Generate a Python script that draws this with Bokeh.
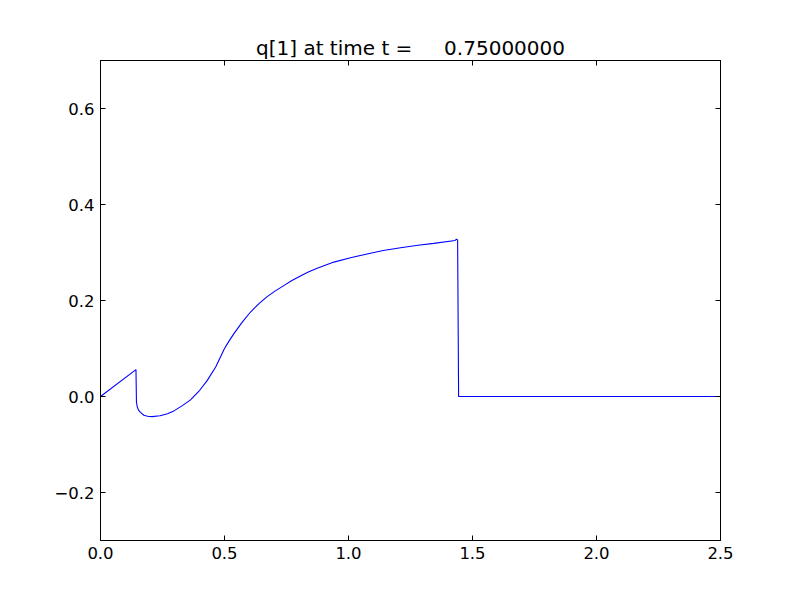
from bokeh.plotting import figure
from bokeh.models import Range1d, LinearAxis, FixedTicker, CustomJSTickFormatter, Title
from bokeh.embed import file_html
from bokeh.resources import INLINE

# data
x = [0.0, 0.143, 0.145, 0.148, 0.153, 0.161, 0.175, 0.19, 0.208, 0.24, 0.27, 0.296, 0.33,
     0.363, 0.4, 0.43, 0.465, 0.5, 0.52, 0.538, 0.57, 0.605, 0.64, 0.672, 0.705, 0.739,
     0.77, 0.806, 0.84, 0.874, 0.941, 1.008, 1.075, 1.14, 1.21, 1.28, 1.344,
     1.43, 1.435, 1.44, 1.444, 2.5]
y = [0.0, 0.056, -0.012, -0.021, -0.028, -0.033, -0.039, -0.041, -0.042, -0.040, -0.036, -0.030, -0.019,
     -0.007, 0.013, 0.033, 0.062, 0.1, 0.117, 0.131, 0.154, 0.176, 0.194, 0.208, 0.220, 0.231,
     0.241, 0.251, 0.260, 0.267, 0.280, 0.289, 0.297, 0.304, 0.310, 0.315, 0.319,
     0.325, 0.328, 0.326, 0.0, 0.0]
x_ticks = [0.0, 0.5, 1.0, 1.5, 2.0, 2.5]
y_ticks = [-0.2, 0.0, 0.2, 0.4, 0.6]
title_text = "q[1] at time t =\u00a0\u00a0\u00a0\u00a0\u00a00.75000000"

W, H = 784, 584
p = figure(width=W, height=H, output_backend="svg", toolbar_location=None,
           x_range=Range1d(0, 2.5), y_range=Range1d(-0.3, 0.7),
           min_border_left=100, min_border_right=64, min_border_top=60, min_border_bottom=44,
           x_axis_type=None, y_axis_type=None)
p.background_fill_color = "white"
p.border_fill_color = "white"
p.outline_line_color = "black"
p.outline_line_width = 1
p.xgrid.visible = False
p.ygrid.visible = False

fmt = CustomJSTickFormatter(code="return tick.toFixed(1).replace('-', '\u2212');")

def mk_axis(ticks, show_labels):
    ax = LinearAxis(ticker=FixedTicker(ticks=ticks))
    ax.formatter = fmt
    ax.major_tick_in = 5
    ax.major_tick_out = 0
    ax.minor_tick_in = 0
    ax.minor_tick_out = 0
    ax.axis_line_color = "black"
    ax.major_tick_line_color = "black"
    ax.major_label_text_font = "DejaVu Sans"
    ax.major_label_text_font_size = "16.5px"
    ax.major_label_text_color = "black"
    ax.major_label_standoff = 6
    if not show_labels:
        ax.major_label_text_alpha = 0
        ax.major_label_text_font_size = "0px"
        ax.major_label_standoff = 0
    return ax

p.add_layout(mk_axis(y_ticks, True), "left")
p.add_layout(mk_axis(y_ticks, False), "right")
p.add_layout(mk_axis(x_ticks, True), "below")
p.add_layout(mk_axis(x_ticks, False), "above")

p.title = Title(text=title_text, align="center", text_font="DejaVu Sans",
                text_font_size="20px", text_font_style="normal", text_color="black",
                standoff=2)

p.line(x, y, line_color="#0000ff", line_width=1.1)

open("out.html", "w").write(file_html(p, INLINE))
